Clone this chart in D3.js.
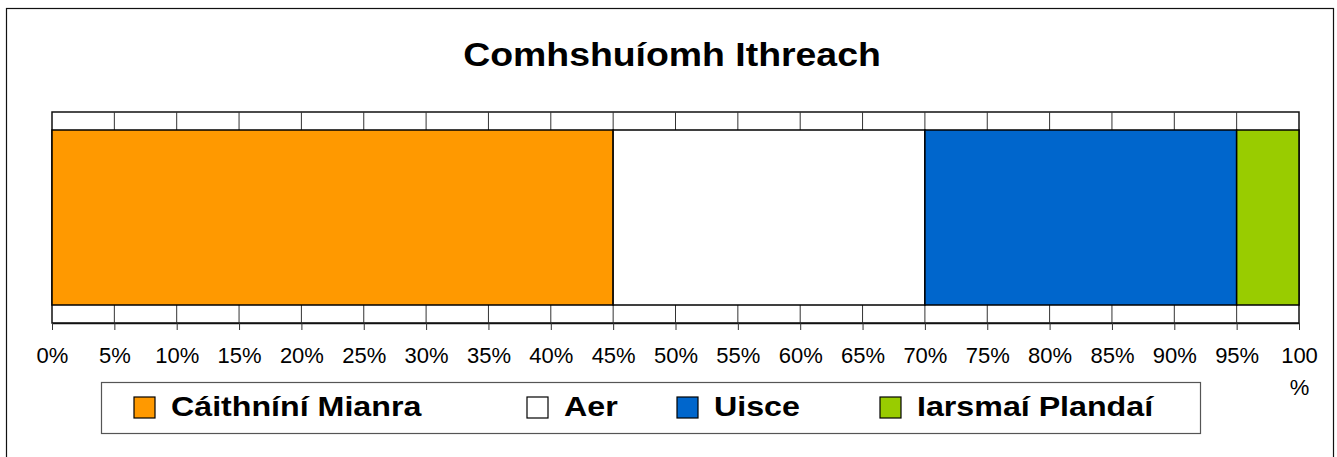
<!DOCTYPE html>
<html>
<head>
<meta charset="utf-8">
<script src="https://cdn.jsdelivr.net/npm/d3@7"></script>
<style>
  body { margin: 0; background: #fff; }
  svg { font-family: Arial, "Liberation Sans", sans-serif; }
</style>
</head>
<body>
<svg id="chart" width="1337" height="457"></svg>
<script>
var title = 'Comhshuíomh Ithreach'
var categories = ['Cáithníní Mianra', 'Aer', 'Uisce', 'Iarsmaí Plandaí']
var values = [45, 25, 25, 5]
var colors = ['#ff9900', '#ffffff', '#0066cc', '#99cc00']
var tickValues = d3.range(0, 101, 5)
var legendX = [134, 527, 677, 880]

var svg = d3.select('#chart')
  , plotL = 52
  , plotR = 1299
  , plotT = 112
  , plotB = 323
  , barT = 130
  , barB = 305

// outer frame
svg.append('rect')
  .attr('x', 6.5).attr('y', 8.5)
  .attr('width', 1327).attr('height', 470)
  .attr('fill', 'none').attr('stroke', '#111').attr('stroke-width', 1.2)

// title is drawn a little wider than the font, like the original
svg.append('text')
  .attr('transform', 'translate(672,66) scale(1.1,1)')
  .attr('text-anchor', 'middle')
  .style('font-size', '34px').style('font-weight', 'bold')
  .text(title)

var x = d3.scaleLinear().domain([0, 100]).range([plotL, plotR])

// plot area + grid
svg.append('rect')
  .attr('x', plotL).attr('y', plotT)
  .attr('width', plotR - plotL).attr('height', plotB - plotT)
  .attr('fill', '#fff').attr('stroke', '#111').attr('stroke-width', 1.5)

svg.append('g').selectAll('line').data(tickValues.slice(1, -1))
  .enter().append('line')
    .attr('x1', function(d){ return x(d) }).attr('x2', function(d){ return x(d) })
    .attr('y1', plotT).attr('y2', plotB)
    .attr('stroke', '#333').attr('stroke-width', 1)

// stacked bar
var stack = d3.cumsum(values)
svg.append('g').selectAll('rect').data(values)
  .enter().append('rect')
    .attr('x', function(d, i){ return x(stack[i] - d) })
    .attr('width', function(d){ return x(d) - x(0) })
    .attr('y', barT).attr('height', barB - barT)
    .attr('fill', function(d, i){ return colors[i] })
    .attr('stroke', '#000').attr('stroke-width', 1.5)

// axis
var axis = d3.axisBottom(x).tickValues(tickValues).tickSize(7).tickSizeOuter(0)
  .tickFormat(function(d){ return d + '%' })
var ag = svg.append('g').attr('transform', 'translate(0,' + plotB + ')').call(axis)
ag.select('.domain').attr('stroke', '#111').attr('stroke-width', 1.5)
ag.selectAll('.tick line').attr('stroke', '#333')
ag.selectAll('.tick text')
  .attr('y', 24).attr('dy', '0.71em')
  .style('font-size', '22px').style('font-family', 'Arial, "Liberation Sans", sans-serif')
  .attr('fill', '#000')
ag.selectAll('.tick text').filter(function(d){ return d === 100 })
  .text(null)
  .call(function(t){
    t.append('tspan').attr('x', 0).attr('dy', '0.71em').text('100')
    t.append('tspan').attr('x', 0).attr('dy', '1.45em').text('%')
  })

// legend
svg.append('rect')
  .attr('x', 101.5).attr('y', 382.5).attr('width', 1099).attr('height', 51)
  .attr('fill', '#fff').attr('stroke', '#555').attr('stroke-width', 1.2)

var lg = svg.append('g').selectAll('g').data(categories)
  .enter().append('g')
    .attr('transform', function(d, i){ return 'translate(' + legendX[i] + ',397)' })
lg.append('rect')
  .attr('width', 21).attr('height', 21)
  .attr('fill', function(d, i){ return colors[i] })
  .attr('stroke', '#000').attr('stroke-width', 1.2)
lg.append('text')
  .attr('transform', 'translate(37,19) scale(1.15,1)')
  .style('font-size', '28px').style('font-weight', 'bold')
  .text(function(d){ return d })
</script>
</body>
</html>
